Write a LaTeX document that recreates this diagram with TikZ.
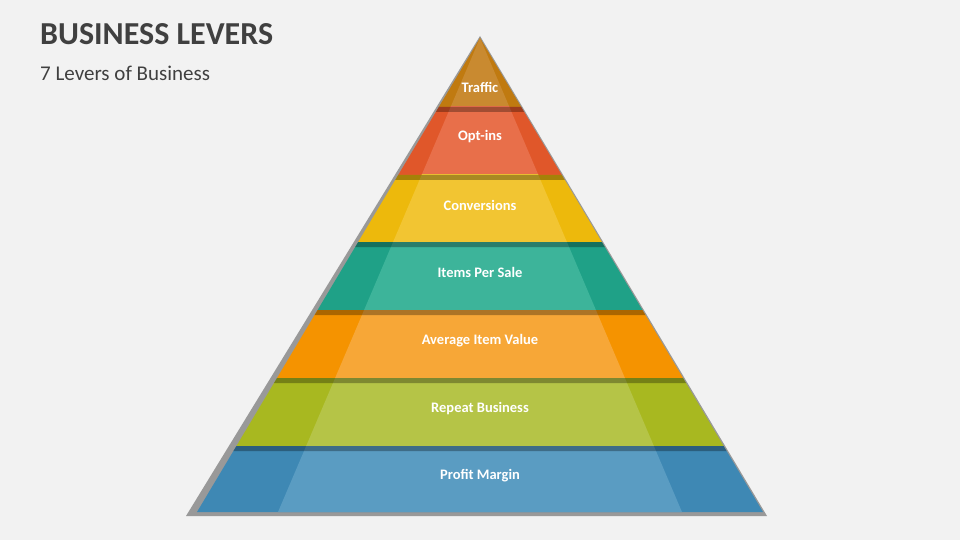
\documentclass[tikz,border=0pt]{standalone}
\usepackage{fontspec}
\setmainfont{Carlito}
\begin{document}
\begin{tikzpicture}[x=1pt,y=-1pt,
  lab/.style={text=white,font=\fontsize{14.5}{17}\selectfont\bfseries,anchor=center}]
\useasboundingbox (0,0) rectangle (960,540);
\fill[black!5] (0,0) rectangle (960,540);
\node[anchor=west,text=black!75,font=\fontsize{32}{36}\selectfont\bfseries,inner sep=0pt] (title) at (40,34) {BUSINESS LEVERS};
\node[anchor=west,text=black!75,font=\fontsize{21}{24}\selectfont,inner sep=0pt] (sub) at (40,73) {7 Levers of Business};
% shadow
\fill[black!40] (480,36) -- (767,516) -- (186,516) -- cycle;
\newcommand\layer[5]{% top, bottom, outer, inner, name
  \fill[#3] ({480-0.59705*(#1-38)},#1) -- ({480+0.59705*(#1-38)},#1) -- ({480+0.59705*(#2-38)},#2) -- ({480-0.59705*(#2-38)},#2) -- cycle;
  \begin{scope}
  \clip ({480-0.59705*(#2-38)},#1) rectangle ({480+0.59705*(#2-38)},#2);
  \fill[#4] (480,38) -- (682,512) -- (278,512) -- cycle;
  \end{scope}
  \coordinate (#5) at (480,{(#1+#2)/2+3});
}
\definecolor{c1o}{HTML}{C07A10}\definecolor{c1i}{HTML}{C98A30}
\definecolor{c2o}{HTML}{E0572A}\definecolor{c2i}{HTML}{E86F4A}
\definecolor{c3o}{HTML}{EDB90C}\definecolor{c3i}{HTML}{F2C532}
\definecolor{c4o}{HTML}{1FA187}\definecolor{c4i}{HTML}{3DB49A}
\definecolor{c5o}{HTML}{F59300}\definecolor{c5i}{HTML}{F7A737}
\definecolor{c6o}{HTML}{A8B820}\definecolor{c6i}{HTML}{B5C447}
\definecolor{c7o}{HTML}{3E88B4}\definecolor{c7i}{HTML}{5A9CC2}
\layer{38}{107}{c1o}{c1i}{l1}
\layer{107}{175}{c2o}{c2i}{l2}
\layer{175}{242}{c3o}{c3i}{l3}
\layer{242}{310}{c4o}{c4i}{l4}
\layer{310}{378}{c5o}{c5i}{l5}
\layer{378}{446}{c6o}{c6i}{l6}
\layer{446}{512}{c7o}{c7i}{l7}
% separators
\foreach \y in {107,175,242,310,378,446}{
  \fill[black,opacity=0.3] ({480-0.59705*(\y-38)},\y) -- ({480+0.59705*(\y-38)},\y) -- ({480+0.59705*(\y+5-38)},\y+5) -- ({480-0.59705*(\y+5-38)},\y+5) -- cycle;
}
\node[lab] (t1) at (480,87) {Traffic};
\node[lab] (t2) at (480,137) {Opt-ins};
\node[lab] (t3) at (480,205) {Conversions};
\node[lab] (t4) at (480,272) {Items Per Sale};
\node[lab] (t5) at (480,341) {Average Item Value};
\node[lab] (t6) at (480,409) {Repeat Business};
\node[lab] (t7) at (480,476) {Profit Margin};
\end{tikzpicture}
\end{document}
